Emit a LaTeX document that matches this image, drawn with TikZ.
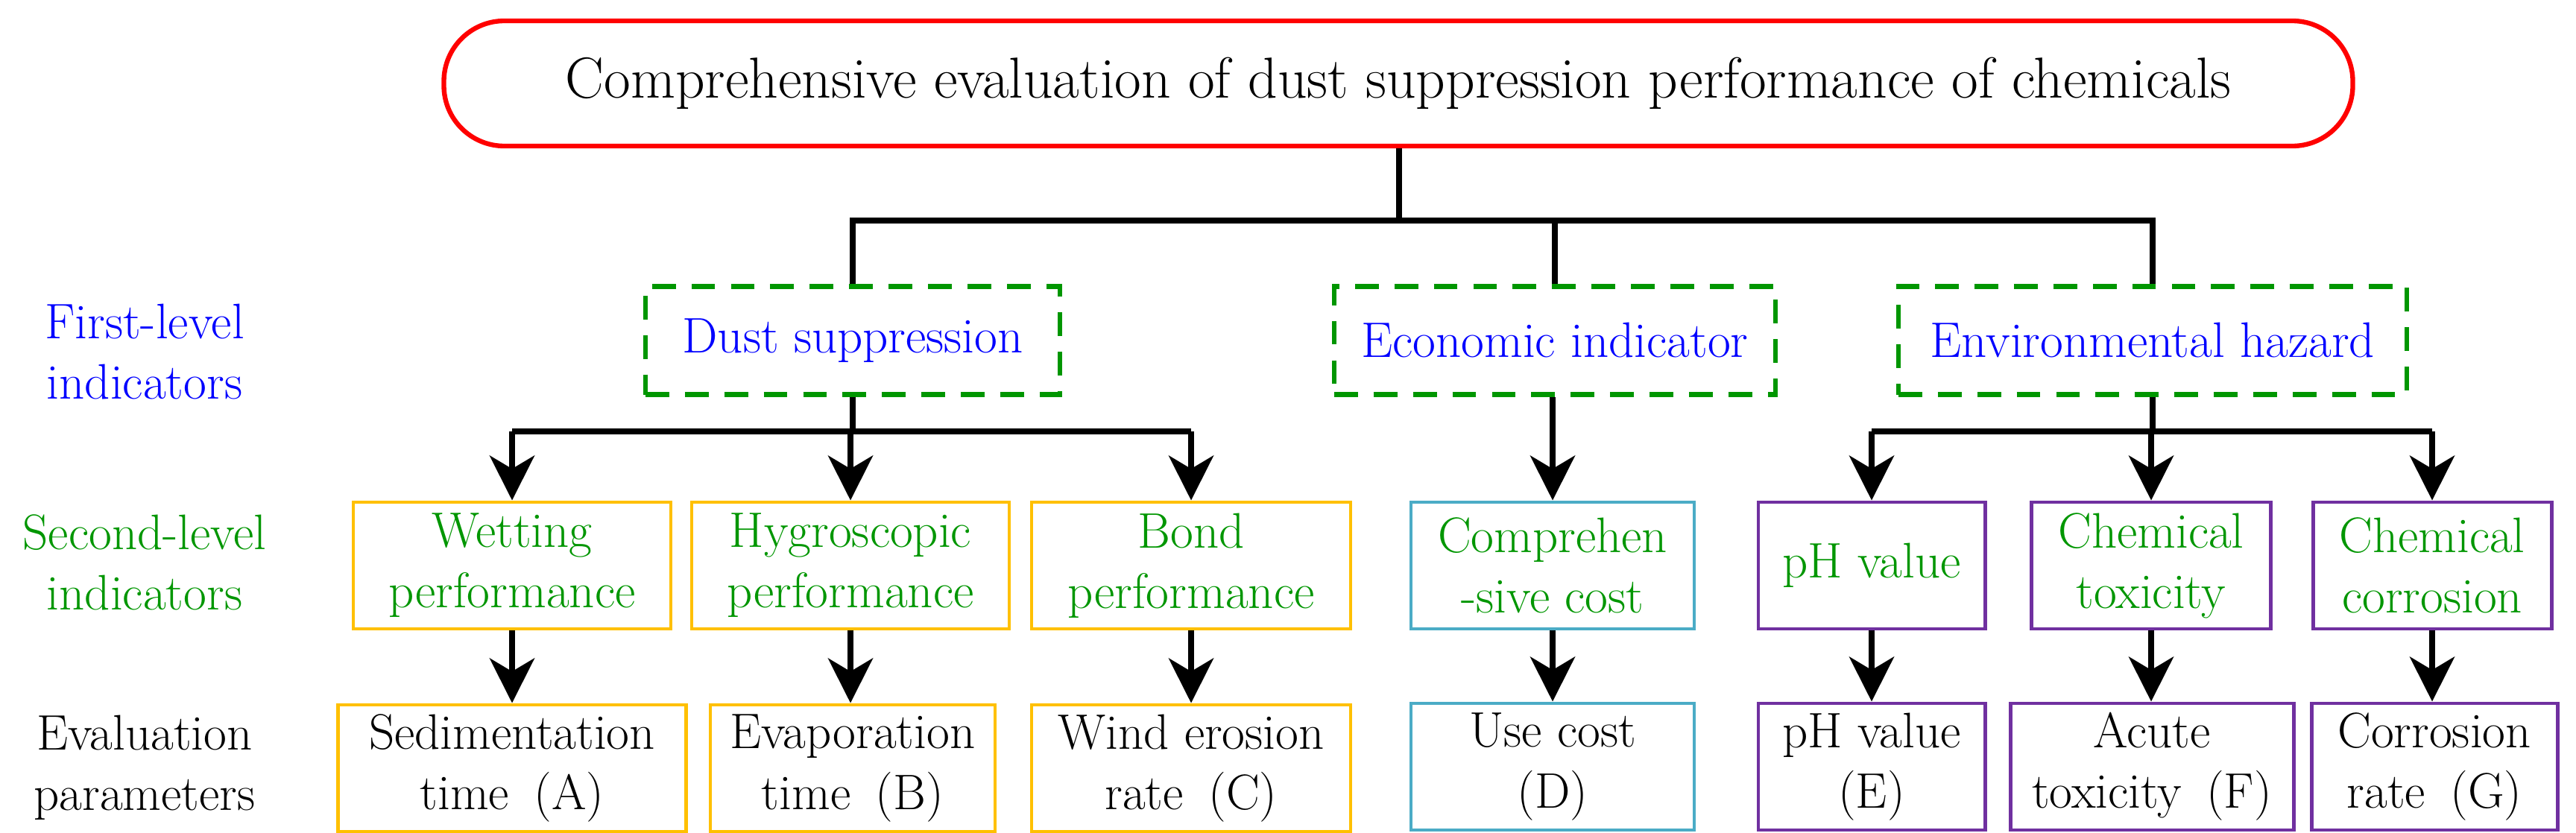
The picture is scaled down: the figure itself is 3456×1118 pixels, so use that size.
\documentclass[tikz,border=0pt]{standalone}
\usetikzlibrary{arrows.meta}
\definecolor{tred}{RGB}{255,0,0}
\definecolor{tgreen}{RGB}{0,150,0}
\definecolor{tblue}{RGB}{0,0,255}
\definecolor{torange}{RGB}{255,192,0}
\definecolor{tteal}{RGB}{75,172,198}
\definecolor{tpurple}{RGB}{112,48,160}
\tikzset{
  txt/.style={font=\fontsize{19}{23}\selectfont,align=center,inner sep=0pt},
  box/.style={txt,draw,line width=1.4pt,minimum height=170*0.2836pt},
  first/.style={txt,draw=tgreen,dashed,dash pattern=on 9pt off 6pt,line width=1.8pt,text=tblue,minimum height=145*0.2836pt},
  line/.style={line width=2.3pt},
  arr/.style={line width=2.3pt,-{Stealth[length=17pt,width=17pt,inset=5pt]}}
}
\begin{document}
\begin{tikzpicture}[x=0.2836pt,y=-0.2836pt]
    \useasboundingbox (0,0) rectangle (3456,1118);
    % top
    \node[txt,draw=tred,line width=1.8pt,rounded corners=23pt,minimum width=2561*0.2836pt,minimum height=168*0.2836pt,font=\fontsize{22}{26}\selectfont] (top) at (1876,112) {Comprehensive evaluation of dust suppression performance of chemicals};
    % level names
    \node[txt,text=tblue] (L1) at (194,472) {First-level\\indicators};
    \node[txt,text=tgreen] (L2) at (194,755) {Second-level\\indicators};
    \node[txt] (L3) at (194,1030) {Evaluation\\parameters};
    % first level
    \node[first,minimum width=556*0.2836pt] (dust) at (1144,457) {Dust suppression};
    \node[first,minimum width=592*0.2836pt] (eco) at (2086,457) {Economic indicator};
    \node[first,minimum width=682*0.2836pt] (env) at (2888,457) {Environmental hazard};
    % second level
    \node[box,draw=torange,text=tgreen,minimum width=426*0.2836pt] (wet) at (687,759) {Wetting\\performance};
    \node[box,draw=torange,text=tgreen,minimum width=426*0.2836pt] (hyg) at (1141,759) {Hygroscopic\\performance};
    \node[box,draw=torange,text=tgreen,minimum width=428*0.2836pt] (bond) at (1598,759) {Bond\\performance};
    \node[box,draw=tteal,text=tgreen,minimum width=380*0.2836pt] (cost) at (2083,759) {Comprehen\\-sive cost};
    \node[box,draw=tpurple,text=tgreen,minimum width=304*0.2836pt] (ph) at (2511,759) {pH value};
    \node[box,draw=tpurple,text=tgreen,minimum width=321*0.2836pt] (tox) at (2886,759) {Chemical\\toxicity};
    \node[box,draw=tpurple,text=tgreen,minimum width=320*0.2836pt] (cor) at (3263,759) {Chemical\\corrosion};
    % parameters
    \node[box,draw=torange,minimum width=467*0.2836pt] (A) at (687,1031) {Sedimentation\\time\enspace(A)};
    \node[box,draw=torange,minimum width=382*0.2836pt] (B) at (1144,1031) {Evaporation\\time\enspace(B)};
    \node[box,draw=torange,minimum width=428*0.2836pt] (C) at (1598,1031) {Wind erosion\\rate\enspace(C)};
    \node[box,draw=tteal,minimum width=380*0.2836pt] (D) at (2083,1029) {Use cost\\(D)};
    \node[box,draw=tpurple,minimum width=304*0.2836pt] (E) at (2511,1029) {pH value\\(E)};
    \node[box,draw=tpurple,minimum width=380*0.2836pt] (F) at (2887,1029) {Acute\\toxicity\enspace(F)};
    \node[box,draw=tpurple,minimum width=330*0.2836pt] (G) at (3266,1029) {Corrosion\\rate\enspace(G)};
    % top bus
    \coordinate (b1) at (1877,296);
    \draw[line] (top.south -| b1) -- (b1);
    \draw[line] (dust.north) |- (env.north |- b1) -- (env.north);
    \draw[line] (eco.north |- b1) -- (eco.north);
    % dust suppression
    \coordinate (b2) at (1144,579);
    \draw[line] (dust.south) -- (b2);
    \draw[line] (wet.north |- b2) -- (bond.north |- b2);
    \foreach \n in {wet,hyg,bond}
      \draw[arr] (\n.north |- b2) -- (\n.north);
    % economic
    \draw[arr] (eco.south -| cost) -- (cost.north);
    % environmental
    \coordinate (b3) at (2888,579);
    \draw[line] (env.south) -- (b3);
    \draw[line] (ph.north |- b3) -- (cor.north |- b3);
    \foreach \n in {ph,tox,cor}
      \draw[arr] (\n.north |- b3) -- (\n.north);
    % parameters
    \foreach \a/\b in {wet/A,hyg/B,bond/C,cost/D,ph/E,tox/F,cor/G}
      \draw[arr] (\a.south) -- (\a.south |- \b.north);
\end{tikzpicture}
\end{document}
